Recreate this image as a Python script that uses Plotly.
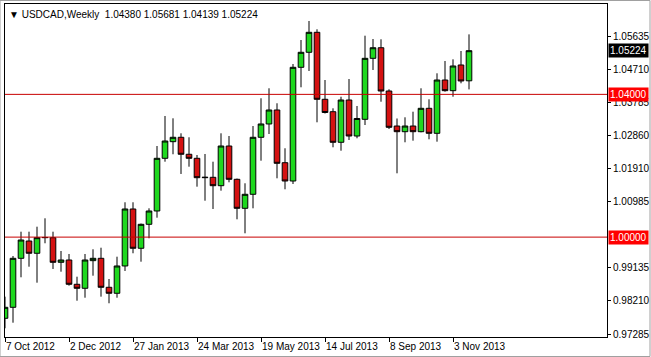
import pandas as pd
import plotly.graph_objects as go

# ---- data (weekly USDCAD candles) ----
start_week = "2012-10-07"
n_weeks = 59
opens = [0.97725, 0.98033, 0.99406, 0.99891, 0.99547, 0.99984, 0.99984, 0.99294, 0.99359, 0.98678,
         0.98566, 0.99340, 0.99406, 0.98594, 0.98426, 0.99191, 1.00788, 0.99687, 1.00359, 1.00732,
         1.02208, 1.02674, 1.02797, 1.02321, 1.02208, 1.01665, 1.01676, 1.01441, 1.02553, 1.01620,
         1.00807, 1.01200, 1.02797, 1.03170, 1.03562, 1.02085, 1.01572, 1.04758, 1.05179, 1.05739,
         1.03862, 1.03514, 1.02657, 1.03842, 1.02833, 1.03301, 1.05010, 1.05307, 1.04094, 1.03113,
         1.02954, 1.03113, 1.02954, 1.03609, 1.02909, 1.04402, 1.04103, 1.04823, 1.04380]
highs = [0.98331, 0.99471, 1.00152, 1.00152, 1.00292, 1.00527, 1.00152, 0.99611, 0.99527, 0.98891,
         0.99527, 0.99659, 0.99703, 0.98826, 0.99451, 1.00976, 1.00976, 1.00380, 1.00807, 1.02553,
         1.03394, 1.03329, 1.02909, 1.02797, 1.02301, 1.02329, 1.02113, 1.02909, 1.02833, 1.01640,
         1.01508, 1.03113, 1.03890, 1.04170, 1.03750, 1.02489, 1.04851, 1.05523, 1.06056, 1.05823,
         1.04402, 1.03609, 1.03934, 1.04430, 1.03674, 1.05644, 1.05551, 1.05543, 1.04142, 1.03324,
         1.03357, 1.03514, 1.04170, 1.03862, 1.04590, 1.04935, 1.04982, 1.05215, 1.05681]
lows = [0.97445, 0.97602, 0.98874, 0.99171, 0.98723, 0.99827, 0.99107, 0.99031, 0.98639, 0.98218,
        0.98302, 0.98919, 0.98331, 0.98146, 0.98302, 0.99051, 0.99547, 0.99311, 0.99967, 1.00544,
        1.02113, 1.02321, 1.01769, 1.01973, 1.01413, 1.01020, 1.00788, 1.01301, 1.01536, 1.00499,
        1.00107, 1.00807, 1.02141, 1.02889, 1.01648, 1.01340, 1.01488, 1.04198, 1.04655, 1.03217,
        1.03464, 1.02517, 1.02421, 1.02721, 1.02769, 1.03141, 1.04683, 1.03794, 1.03029, 1.01788,
        1.02657, 1.02702, 1.02937, 1.02741, 1.02674, 1.04075, 1.03934, 1.04310, 1.04139]
closes = [0.98033, 0.99406, 0.99919, 0.99547, 0.99984, 0.99990, 0.99294, 0.99359, 0.98678, 0.98566,
          0.99359, 0.99406, 0.98594, 0.98426, 0.99191, 1.00788, 0.99687, 1.00359, 1.00732, 1.02208,
          1.02693, 1.02797, 1.02321, 1.02208, 1.01665, 1.01676, 1.01441, 1.02553, 1.01620, 1.00807,
          1.01200, 1.02797, 1.03170, 1.03562, 1.02068, 1.01572, 1.04758, 1.05179, 1.05739, 1.03862,
          1.03492, 1.02657, 1.03842, 1.02833, 1.03324, 1.05010, 1.05307, 1.04094, 1.03077, 1.02954,
          1.03113, 1.02954, 1.03609, 1.02909, 1.04402, 1.04103, 1.04795, 1.04375, 1.05224]

symbol_title = "\u25BC USDCAD,Weekly  1.04380 1.05681 1.04139 1.05224"
level_lines = [1.04000, 1.00000]
level_labels = ["1.04000", "1.00000"]
current_price = 1.05224
current_label = "1.05224"
y_ticks = [1.05635, 1.04710, 1.03785, 1.02860, 1.01910, 1.00985, 0.99135, 0.98210, 0.97285]
x_tick_dates = ["2012-10-07", "2012-12-02", "2013-01-27", "2013-03-24",
                "2013-05-19", "2013-07-14", "2013-09-08", "2013-11-03"]
x_tick_text = ["7 Oct 2012", "2 Dec 2012", "27 Jan 2013", "24 Mar 2013",
               "19 May 2013", "14 Jul 2013", "8 Sep 2013", "3 Nov 2013"]

weeks = pd.date_range(start=start_week, periods=n_weeks, freq="7D")

FONT = "Liberation Sans"
GREEN = "#1ed81e"
RED = "#d41111"
LINE_RED = "#c80000"

fig = go.Figure()
fig.add_trace(go.Candlestick(
    x=weeks, open=opens, high=highs, low=lows, close=closes,
    increasing=dict(line=dict(color="black", width=1), fillcolor=GREEN),
    decreasing=dict(line=dict(color="black", width=1), fillcolor=RED),
    whiskerwidth=0, hoverinfo="skip", showlegend=False,
))

for lv in level_lines:
    fig.add_hline(y=lv, line=dict(color=LINE_RED, width=1))

x0 = pd.Timestamp(start_week)
x_end = x0 + pd.Timedelta(days=7 * 75.25)

fig.update_layout(
    width=651, height=357,
    margin=dict(l=5, r=44, t=4, b=20, autoexpand=False),
    paper_bgcolor="white", plot_bgcolor="white",
    font=dict(family=FONT, size=10, color="black"),
    showlegend=False,
    boxgap=0.3, boxgroupgap=0.0,
    xaxis=dict(
        type="date", range=[x0, x_end], rangeslider=dict(visible=False),
        showgrid=False, zeroline=False, automargin=False,
        showline=True, linecolor="black", linewidth=1, mirror=True,
        ticks="outside", ticklen=4, tickcolor="black",
        tickvals=pd.to_datetime(x_tick_dates), ticktext=x_tick_text,
        ticklabelposition="outside right", tickangle=0,
        tickfont=dict(family=FONT, size=10, color="black"),
    ),
    yaxis=dict(
        side="right", range=[0.97201, 1.06532], automargin=False,
        showgrid=False, zeroline=False,
        showline=True, linecolor="black", linewidth=1, mirror=True,
        ticks="outside", ticklen=3, tickcolor="black",
        tickvals=y_ticks, ticktext=[f"{v:.5f}" for v in y_ticks],
        tickfont=dict(family=FONT, size=10, color="black"),
    ),
)

label_right = 1 + 42 / 602
annotations = [
    dict(xref="paper", yref="paper", x=0, y=1, xanchor="left", yanchor="top",
         xshift=2, yshift=-3, text=symbol_title, showarrow=False,
         font=dict(family=FONT, size=10, color="black")),
]
for lv, lab in zip(level_lines, level_labels):
    annotations.append(dict(
        xref="paper", yref="y", x=label_right, y=lv, xanchor="right", yanchor="middle",
        text=lab, showarrow=False, bgcolor="#ff0000",
        font=dict(family=FONT, size=10, color="white"), borderpad=1))
annotations.append(dict(
    xref="paper", yref="y", x=label_right, y=current_price, xanchor="right", yanchor="middle",
    text=current_label, showarrow=False, bgcolor="black",
    font=dict(family=FONT, size=10, color="white"), borderpad=1))
fig.update_layout(annotations=annotations)

# window frame
fig.add_shape(type="rect", xref="paper", yref="paper",
              x0=-5 / 602, x1=1 + 43 / 602, y0=-19.5 / 333, y1=1 + 3.5 / 333,
              line=dict(color="#a0a0a0", width=1), fillcolor="rgba(0,0,0,0)", layer="below")

fig.write_html("out.html")
